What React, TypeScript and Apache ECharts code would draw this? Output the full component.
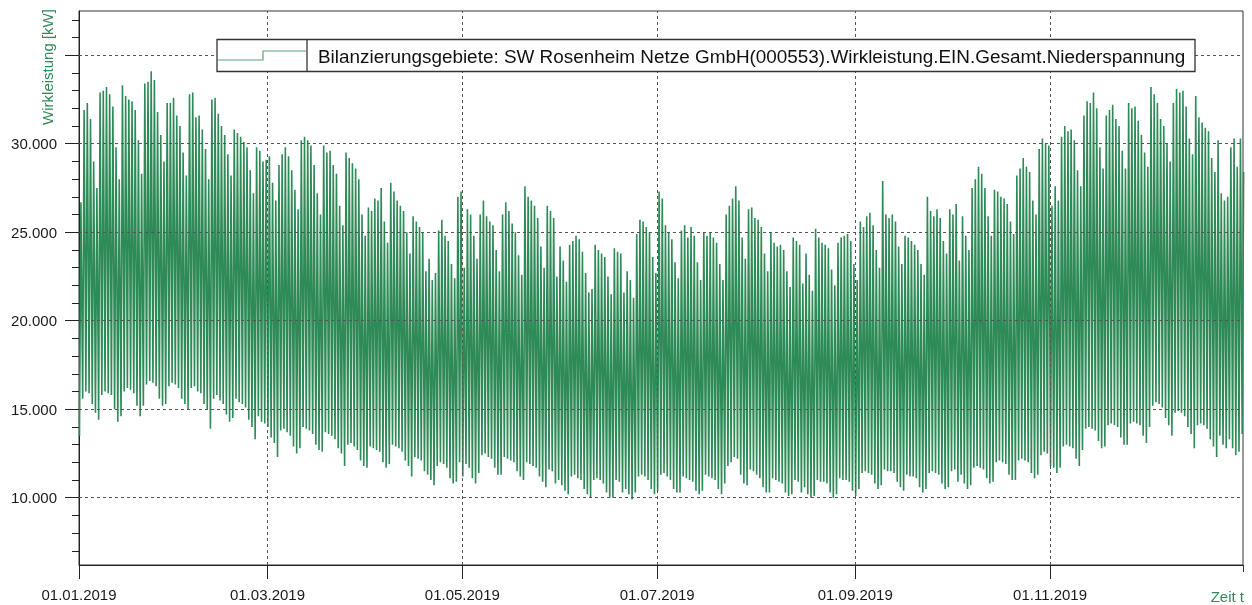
import React, { useEffect, useRef } from 'react';
import * as echarts from 'echarts';

// Daily maximum load [kW], 01.01.2019 (Tue) .. 31.12.2019, rows = calendar weeks (Mon..Sun)
const dayMax = [
  26700, 31900, 32300, 31400, 29000, 27500,
  32900, 33000, 33200, 32800, 32100, 29800, 28000,
  33300, 32700, 32500, 32400, 31900, 30200, 28300,
  33400, 33500, 34100, 33600, 31800, 30500, 29000,
  32300, 32300, 32600, 31600, 31000, 29500, 28200,
  32800, 32900, 31500, 31600, 30800, 29700, 28000,
  32500, 32600, 31700, 31000, 30500, 29400, 28200,
  30800, 30600, 30400, 30100, 29800, 28500, 27200,
  29800, 29600, 29000, 29100, 29300, 27800, 26800,
  28800, 29400, 29800, 29300, 28500, 27400, 26300,
  30200, 30400, 30200, 29900, 28800, 27200, 26000,
  29900, 29500, 29600, 28800, 28300, 26500, 25400,
  29500, 29200, 28900, 28600, 28000, 26000, 24800,
  26400, 26200, 26900, 26800, 27500, 25600, 24400,
  27800, 27300, 26800, 26500, 26200, 25000, 23800,
  25900, 25600, 25300, 25000, 22800, 23500, 22300,
  22700, 25100, 25700, 24800, 24500, 23200, 22400,
  27000, 27300, 23000, 26300, 26000, 24800, 23500,
  26000, 26800, 25900, 25600, 25400, 24000, 22800,
  26000, 26700, 26200, 25500, 25000, 23700, 22600,
  27600, 27000, 26800, 26500, 25800, 24200, 23000,
  26500, 26200, 25800, 22500, 24200, 23400, 22200,
  24300, 24500, 24800, 24600, 23900, 22700, 21600,
  21800, 24300, 24000, 23800, 23600, 22500, 21500,
  24100, 23900, 23800, 21600, 22800, 22300, 21300,
  24900, 25700, 25600, 25300, 25000, 23600, 22700,
  27300, 26900, 25400, 25000, 24600, 23300, 22400,
  25100, 25400, 24700, 25300, 24800, 23300, 22300,
  25000, 24800, 25000, 24700, 24400, 23200, 22300,
  26000, 26500, 26900, 27600, 26800, 24700, 23500,
  26300, 26400, 25800, 25700, 25300, 23800, 22800,
  25000, 24400, 24200, 24300, 24000, 22800, 21900,
  24700, 24500, 24300, 22100, 23800, 22600, 21700,
  25200, 24700, 24400, 24300, 24100, 22900, 22000,
  24400, 24700, 24800, 24900, 24500, 23200, 22300,
  25600, 25300, 25900, 26100, 25400, 24000, 23000,
  27900, 26000, 25800, 26000, 25600, 24200, 23200,
  24800, 24700, 24500, 24300, 24000, 23200, 22600,
  27000, 26200, 25900, 26300, 25800, 24500, 23800,
  26300, 26000, 26600, 23400, 25900, 24800, 24000,
  27500, 28000, 28700, 28300, 27500, 25900, 24800,
  27400, 27300, 27000, 26900, 26600, 25600, 24900,
  28200, 28600, 29200, 28700, 28400, 26800, 26000,
  29700, 30300, 30000, 29900, 26500, 27600, 26800,
  30400, 31000, 30700, 30800, 30200, 28500, 27600,
  31600, 32400, 32300, 32900, 32000, 29800, 28600,
  31600, 31900, 32200, 31400, 31000, 29600, 28600,
  32300, 32000, 32100, 31300, 30500, 29500, 28700,
  33200, 32800, 32300, 31400, 31000, 30000, 29000,
  32300, 33100, 32900, 33000, 32100, 30300, 29400,
  32700, 31500, 31200, 30900, 30700, 29200, 28400,
  30200, 27200, 26800, 27000, 29800, 30300, 28700,
  30300, 28400,
];

// Daily minimum load [kW]
const dayMin = [
  13500, 15600, 16000, 15900, 15300, 14800,
  14400, 15800, 16000, 15900, 15800, 15000, 14300,
  14600, 16000, 16200, 16100, 15900, 15200, 14600,
  15200, 16400, 16600, 16500, 16300, 15600, 15200,
  15300, 16300, 16500, 16400, 16200, 15600, 15300,
  15000, 16200, 16300, 16000, 15900, 15300, 15000,
  13900, 15600, 15800, 15500, 15300, 14700, 14300,
  14500, 15600, 15400, 15300, 15100, 14400, 14000,
  13300, 14600, 14300, 14200, 14000, 13400, 13100,
  12300, 13800, 13900, 13700, 13500, 12900, 12500,
  12800, 14000, 13900, 13800, 13600, 13000, 12700,
  12600, 13700, 13600, 13500, 13300, 12800, 12500,
  11800, 13000, 13100, 12900, 12700, 12100, 11800,
  11700, 12900, 12800, 12700, 12600, 12000, 11700,
  11900, 13000, 12900, 12800, 12600, 12100, 11800,
  11200, 12300, 12200, 12100, 11500, 11300, 11000,
  10700, 11800, 12000, 11900, 11700, 11100, 10800,
  10900, 12000, 11200, 11900, 11700, 11100, 10800,
  11400, 12400, 12500, 12300, 12200, 11700, 11300,
  11300, 12300, 12200, 12100, 12000, 11500, 11200,
  11000, 12000, 11900, 11800, 11700, 11200, 10900,
  10600, 11600, 11500, 10800, 11000, 10700, 10400,
  10200, 11200, 11300, 11100, 11000, 10500, 10200,
  10000, 11000, 11100, 11000, 10800, 10300, 10000,
  10000, 11000, 10900, 10300, 10500, 10200, 9900,
  10300, 11200, 11300, 11200, 11000, 10500, 10200,
  10400, 11300, 11400, 11200, 11000, 10500, 10300,
  10300, 11200, 11100, 11000, 10900, 10400, 10200,
  10400, 11300, 11200, 11100, 11000, 10500, 10200,
  10800, 11800, 12000, 12300, 12200, 11300, 10800,
  10700, 11600, 11500, 11300, 11100, 10600, 10300,
  10300, 11100, 11000, 10900, 10800, 10300, 10100,
  10200, 11000, 10900, 10300, 10600, 10200, 10000,
  10100, 11000, 10900, 10900, 10800, 10300, 10000,
  10200, 11100, 11000, 11000, 10900, 10400, 10100,
  10500, 11400, 11500, 11400, 11300, 10800, 10500,
  10700, 11600, 11500, 11500, 11400, 10900, 10600,
  10400, 11300, 11200, 11200, 11100, 10600, 10300,
  10500, 11400, 11500, 11400, 11300, 10800, 10500,
  10600, 11500, 11600, 10900, 11300, 10800, 10500,
  10700, 11700, 11800, 11700, 11600, 11100, 10800,
  10900, 12000, 12100, 12000, 11900, 11300, 11000,
  11000, 12100, 12200, 12100, 12000, 11400, 11100,
  11300, 12400, 12600, 12500, 11800, 11700, 11400,
  11700, 12900, 13000, 12900, 12800, 12200, 11800,
  12700, 13900, 14000, 13900, 13800, 13200, 12800,
  12900, 14100, 14200, 14100, 14000, 13400, 13000,
  13000, 14200, 14300, 14200, 14100, 13500, 13100,
  14000, 15200, 15400, 15300, 15100, 14500, 14100,
  13500, 14800, 14900, 14800, 14600, 14000, 13600,
  12800, 14100, 14200, 14100, 13900, 13300, 12900,
  12300, 13500, 13000, 12800, 13300, 12800, 12400,
  12600, 13600,
];

// Axis ticks
const xTickDays = [0, 59, 120, 181, 243, 304];
const xTickLabels = ['01.01.2019', '01.03.2019', '01.05.2019', '01.07.2019', '01.09.2019', '01.11.2019'];
const yMajorTicks = [10000, 15000, 20000, 25000, 30000, 35000];
const yLabelTicks = [10000, 15000, 20000, 25000, 30000];
const yMinorTicks = [
  7000, 8000, 9000, 11000, 12000, 13000, 14000, 16000, 17000, 18000, 19000,
  21000, 22000, 23000, 24000, 26000, 27000, 28000, 29000, 31000, 32000, 33000,
  34000, 36000, 37000,
];
const seriesName = 'Bilanzierungsgebiete: SW Rosenheim Netze GmbH(000553).Wirkleistung.EIN.Gesamt.Niederspannung';

const GREEN = '#2e8b57';
const FONT = '"Liberation Sans", Arial, sans-serif';

export default function App() {
  const ref = useRef<HTMLDivElement>(null);
  useEffect(() => {
    const chart = echarts.init(ref.current as HTMLDivElement, null, { renderer: 'svg' });
    const data: [number, number][] = [];
    for (let d = 0; d < dayMax.length; d++) {
      data.push([d + 0.15, dayMin[d]]);
      data.push([d + 0.6, dayMax[d]]);
    }
    const gridStyle = { color: '#555', type: [3, 3] as number[], width: 1 };
    const markData: any[] = [];
    yMajorTicks.forEach((v) => markData.push({ yAxis: v, lineStyle: gridStyle }));
    xTickDays.slice(1).forEach((v) => markData.push({ xAxis: v, lineStyle: gridStyle }));

    chart.setOption({
      animation: false,
      grid: { left: 79, right: 9, top: 11, bottom: 40, show: true, borderColor: '#333', borderWidth: 1 },
      xAxis: {
        type: 'value',
        min: 0,
        max: 364.4,
        axisLine: { show: true, lineStyle: { color: '#222', width: 1 } },
        axisTick: { show: true, customValues: xTickDays, length: 14, lineStyle: { color: '#222' } },
        axisLabel: {
          customValues: xTickDays,
          formatter: (v: number) => xTickLabels[xTickDays.indexOf(Math.round(v))] ?? '',
          color: '#1a1a1a',
          fontFamily: FONT,
          fontSize: 15,
          margin: 22,
        },
        splitLine: { show: false },
      },
      yAxis: [
        {
          type: 'value',
          min: 6200,
          max: 37500,
          axisLine: { show: true, lineStyle: { color: '#222', width: 1 } },
          axisTick: { show: true, customValues: yMajorTicks, length: 14, lineStyle: { color: '#222' } },
          axisLabel: {
            customValues: yLabelTicks,
            formatter: (v: number) => `${v / 1000}.000`,
            color: '#1a1a1a',
            fontFamily: FONT,
            fontSize: 15,
            margin: 22,
          },
          splitLine: { show: false },
        },
        {
          type: 'value',
          min: 6200,
          max: 37500,
          position: 'left',
          axisLine: { show: false },
          axisTick: { show: true, customValues: yMinorTicks, length: 7, lineStyle: { color: '#222' } },
          axisLabel: { show: false },
          splitLine: { show: false },
        },
      ],
      series: [
        {
          name: seriesName,
          type: 'line',
          z: 2,
          data,
          showSymbol: false,
          symbol: 'none',
          lineStyle: { color: GREEN, width: 1.6 },
          markLine: {
            silent: true,
            symbol: ['none', 'none'],
            label: { show: false },
            data: markData,
          },
        },
      ],
      graphic: [
        {
          type: 'text',
          x: 47,
          y: 67,
          rotation: Math.PI / 2,
          style: {
            text: 'Wirkleistung [kW]',
            fill: GREEN,
            font: `15px ${FONT}`,
            align: 'center',
            verticalAlign: 'middle',
          },
        },
        {
          type: 'text',
          x: 1244,
          y: 596,
          style: {
            text: 'Zeit t',
            fill: GREEN,
            font: `15px ${FONT}`,
            align: 'right',
            verticalAlign: 'middle',
          },
        },
        {
          type: 'line',
          z: 50,
          shape: { x1: 1243.5, y1: 565, x2: 1243.5, y2: 572 },
          style: { stroke: '#333', lineWidth: 1 },
        },
        {
          type: 'rect',
          z: 100,
          shape: { x: 217, y: 39.5, width: 978, height: 32 },
          style: { fill: '#fff', stroke: '#333', lineWidth: 1.3 },
        },
        {
          type: 'line',
          z: 101,
          shape: { x1: 307, y1: 39.5, x2: 307, y2: 71.5 },
          style: { stroke: '#333', lineWidth: 1.3 },
        },
        {
          type: 'polyline',
          z: 101,
          shape: { points: [[218, 60], [263, 60], [263, 51], [306, 51]] },
          style: { stroke: '#5aa67c', lineWidth: 1.2, fill: 'none' },
        },
        {
          type: 'text',
          z: 101,
          x: 318,
          y: 56,
          style: {
            text: seriesName,
            fill: '#111',
            font: `18.9px ${FONT}`,
            verticalAlign: 'middle',
          },
        },
      ],
    });
    return () => chart.dispose();
  }, []);
  return <div ref={ref} style={{ position: 'fixed', left: 0, top: 0, width: 1252, height: 605 }} />;
}
